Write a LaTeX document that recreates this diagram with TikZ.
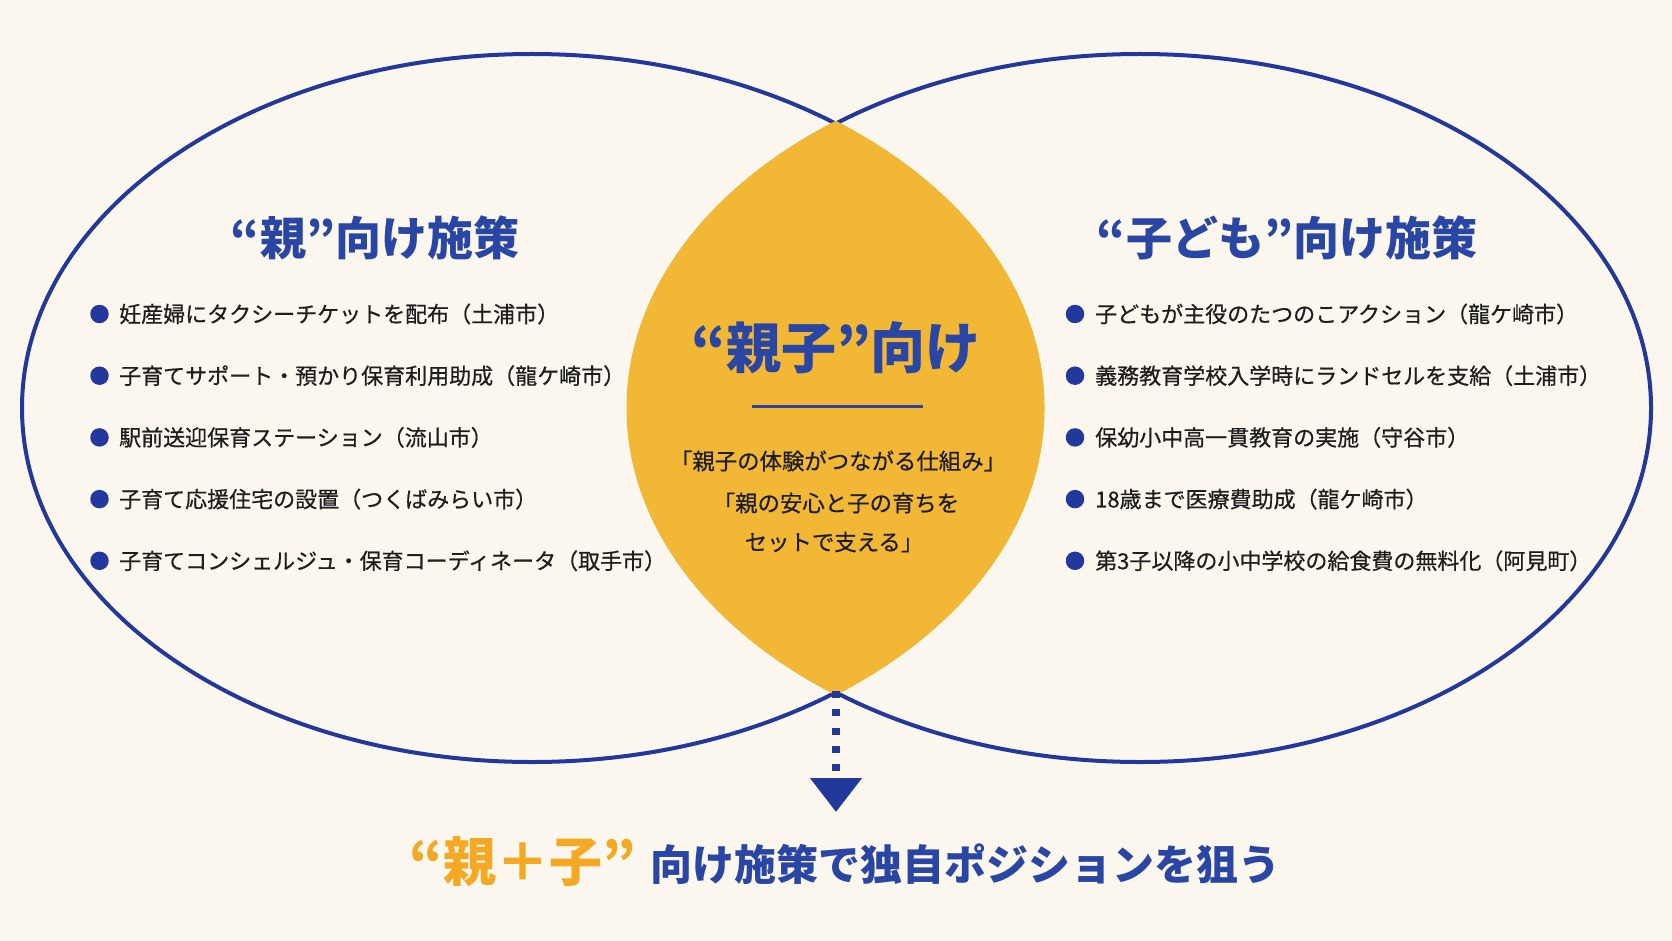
\documentclass[tikz,border=0pt]{standalone}
\usepackage{fontspec}
\setmainfont{Noto Sans CJK JP}
\newfontfamily\jpmed[FakeBold=0.6]{Noto Sans CJK JP}
\usetikzlibrary{arrows.meta}
\definecolor{bg}{HTML}{FBF7EF}
\definecolor{navy}{HTML}{22389C}
\definecolor{headblue}{HTML}{2A46A5}
\definecolor{lensyellow}{HTML}{F2B835}
\definecolor{orng}{HTML}{F5A823}
\definecolor{ink}{HTML}{1E1E1E}
\begin{document}
\begin{tikzpicture}[x=1pt,y=-1pt,
  itemtext/.style={anchor=west, inner sep=0pt, text=ink, font=\jpmed\fontsize{22}{26}\selectfont},
  dot/.style={circle, fill=navy, minimum size=18.5pt, inner sep=0pt},
  heading/.style={inner sep=0pt, text=headblue, font=\fontsize{46}{56}\selectfont\bfseries},
  ring/.style={draw=navy, line width=4pt},
  lenstext/.style={inner sep=0pt, text=ink, font=\jpmed\fontsize{22.4}{26}\selectfont}]
\fill[bg] (0,0) rectangle (1672,941);
\useasboundingbox (0,0) rectangle (1672,941);

% circles
\draw[ring] (532,408) ellipse [x radius=510pt, y radius=354pt];
\draw[ring] (1140,408) ellipse [x radius=511pt, y radius=354pt];
% lens, covering the inner arcs
\begin{scope}
  \clip (532,408) ellipse [x radius=512.5pt, y radius=356.5pt];
  \fill[lensyellow] (1140,408) ellipse [x radius=513.5pt, y radius=356.5pt];
\end{scope}

% headings
\node[heading] (hl) at (375,238) {“親”向け施策};
\node[heading] (hr) at (1287,238) {“子ども”向け施策};

% left list
\foreach \t [count=\i] in {妊産婦にタクシーチケットを配布（土浦市）,
  子育てサポート・預かり保育利用助成（龍ケ崎市）,
  駅前送迎保育ステーション（流山市）,
  子育て応援住宅の設置（つくばみらい市）,
  子育てコンシェルジュ・保育コーディネータ（取手市）}{
  \node[dot] (ld\i) at (99.5,{314+61.7*(\i-1)}) {};
  \node[itemtext] (lt\i) at (119,{314+61.7*(\i-1)}) {\t};
}
% right list
\foreach \t [count=\i] in {子どもが主役のたつのこアクション（龍ケ崎市）,
  義務教育学校入学時にランドセルを支給（土浦市）,
  保幼小中高一貫教育の実施（守谷市）,
  18歳まで医療費助成（龍ケ崎市）,
  第3子以降の小中学校の給食費の無料化（阿見町）}{
  \node[dot] (rd\i) at (1075,{314+61.7*(\i-1)}) {};
  \node[itemtext] (rt\i) at (1095,{314+61.7*(\i-1)}) {\t};
}

% center
\node[inner sep=0pt, text=headblue, font=\fontsize{55}{65}\selectfont\bfseries] (ct) at (836,348) {“親子”向け};
\coordinate (rulel) at (752,406);
\coordinate (ruler) at (923,406);
\draw[headblue, line width=3pt] (rulel) -- (ruler);
\node[lenstext] (c1) at (838,461) {「親子の体験がつながる仕組み」};
\node[lenstext] (c2) at (836,503) {「親の安心と子の育ちを};
\node[lenstext] (c3) at (834,542) {セットで支える」};

% arrow
\coordinate (lensbot) at (836,691);
\coordinate (tip) at (836,812);
\draw[navy, line width=8pt, dash pattern=on 7pt off 11.3pt,
  -{Triangle[width=50pt, length=34pt]}] (lensbot) -- (tip);

% bottom
\node[anchor=base east, inner sep=0pt, text=orng, font=\fontsize{53}{63}\selectfont\bfseries] (b1) at (636,881) {“親＋子”};
\node[anchor=base west, inner sep=0pt, text=headblue, font=\fontsize{42}{50}\selectfont\bfseries] (b2) at (650,880) {向け施策で独自ポジションを狙う};
\end{tikzpicture}
\end{document}
